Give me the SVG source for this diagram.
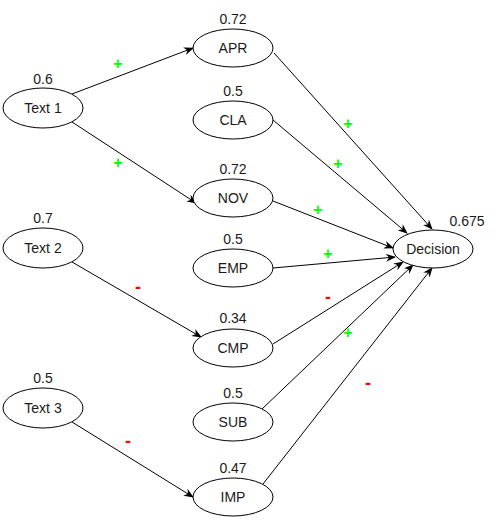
<svg xmlns="http://www.w3.org/2000/svg" width="501" height="522" viewBox="0 0 501 522">
<style>
.n ellipse{fill:#fff;stroke:#000;stroke-width:1}
text{font-family:"Liberation Sans",Arial,sans-serif;font-size:14px;fill:#1a1a1a;text-anchor:middle}
.c line{stroke:#000;stroke-width:1;marker-end:url(#a)}
.p{fill:#00ff00;font-weight:bold;font-size:16px}
.m{fill:#ff0000;font-weight:bold;font-size:18px}
</style>
<defs>
<marker id="a" viewBox="0 0 10 8" refX="9" refY="4" markerWidth="10" markerHeight="8" markerUnits="userSpaceOnUse" orient="auto">
<path d="M0,0 L10,4 L0,8 L3,4 z" fill="#000"/>
</marker>
</defs>
<rect width="501" height="522" fill="#fff"/>
<g class="c">
<line x1="72" y1="94" x2="193" y2="48"/>
<line x1="72" y1="122" x2="196" y2="203"/>
<line x1="72" y1="262" x2="201" y2="337"/>
<line x1="72" y1="422" x2="193" y2="497"/>
<line x1="274" y1="53" x2="432" y2="229"/>
<line x1="273" y1="120" x2="407" y2="233"/>
<line x1="273" y1="201" x2="393" y2="248"/>
<line x1="273" y1="268" x2="395" y2="257"/>
<line x1="273" y1="344" x2="403" y2="262"/>
<line x1="262" y1="409" x2="413" y2="265"/>
<line x1="263" y1="484" x2="432" y2="268"/>
</g>
<g class="c">
<text class="p" x="118" y="69">+</text>
<text class="p" x="118" y="168">+</text>
<text class="m" x="138" y="293">-</text>
<text class="m" x="128" y="447">-</text>
<text class="p" x="348" y="129">+</text>
<text class="p" x="338" y="169">+</text>
<text class="p" x="318" y="215">+</text>
<text class="p" x="328" y="259">+</text>
<text class="m" x="328" y="303">-</text>
<text class="p" x="348" y="338">+</text>
<text class="m" x="368" y="389">-</text>
</g>
<g id="text1" class="n"><ellipse cx="43" cy="108" rx="40" ry="20"/><text x="43" y="113">Text 1</text><text x="43" y="84">0.6</text></g>
<g id="text2" class="n"><ellipse cx="43" cy="248" rx="40" ry="20"/><text x="43" y="253">Text 2</text><text x="43" y="223">0.7</text></g>
<g id="text3" class="n"><ellipse cx="43" cy="408" rx="40" ry="20"/><text x="43" y="413">Text 3</text><text x="43" y="383">0.5</text></g>
<g id="apr" class="n"><ellipse cx="233" cy="48" rx="40" ry="19"/><text x="233" y="53">APR</text><text x="233" y="24">0.72</text></g>
<g id="cla" class="n"><ellipse cx="233" cy="120" rx="40" ry="19"/><text x="233" y="125">CLA</text><text x="233" y="96">0.5</text></g>
<g id="nov" class="n"><ellipse cx="233" cy="198" rx="40" ry="19"/><text x="233" y="203">NOV</text><text x="233" y="174">0.72</text></g>
<g id="emp" class="n"><ellipse cx="233" cy="268" rx="40" ry="19"/><text x="233" y="273">EMP</text><text x="233" y="244">0.5</text></g>
<g id="cmp" class="n"><ellipse cx="233" cy="348" rx="40" ry="19"/><text x="233" y="353">CMP</text><text x="233" y="323">0.34</text></g>
<g id="sub" class="n"><ellipse cx="233" cy="422" rx="40" ry="19"/><text x="233" y="427">SUB</text><text x="233" y="398">0.5</text></g>
<g id="imp" class="n"><ellipse cx="233" cy="497" rx="40" ry="19"/><text x="233" y="502">IMP</text><text x="233" y="473">0.47</text></g>
<g id="decision" class="n"><ellipse cx="433" cy="249" rx="40" ry="19"/><text x="433" y="254">Decision</text><text x="467" y="226">0.675</text></g>
</svg>
